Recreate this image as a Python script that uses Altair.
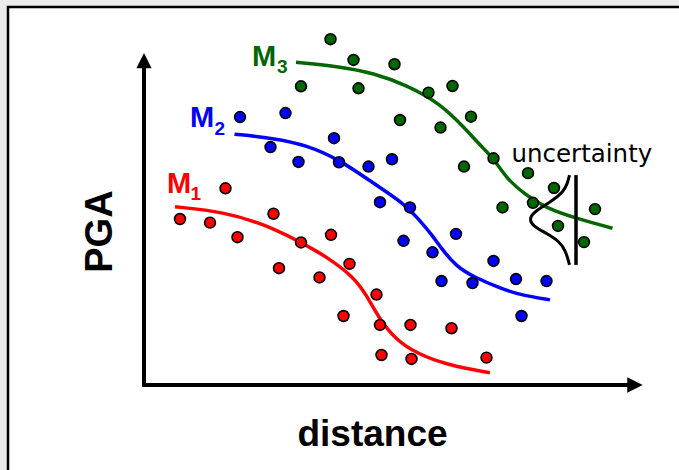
import altair as alt
import pandas as pd

# ---- schematic data (distance units 0..100, PGA units 0..110) ----
red_px = [7.2, 13.2, 18.7, 16.3, 25.9, 31.4, 37.4, 27.0, 35.1, 41.1, 46.5, 39.9, 47.2, 53.3, 61.5, 47.5, 53.5, 68.5]
red_py = [50.3, 49.2, 44.8, 59.6, 51.9, 43.2, 45.5, 35.4, 32.6, 36.7, 27.4, 20.9, 18.2, 18.2, 17.2, 9.1, 7.9, 8.3]

blue_px = [19.2, 28.3, 25.3, 30.9, 38.0, 39.0, 44.9, 49.6, 47.2, 53.2, 51.9, 62.4, 57.7, 69.9, 59.5, 65.7, 74.4, 80.5, 75.5]
blue_py = [81.2, 82.4, 72.1, 67.6, 74.8, 67.5, 66.2, 68.4, 55.4, 53.8, 43.7, 45.8, 40.2, 37.6, 31.5, 30.9, 32.1, 31.5, 20.9]

green_px = [37.3, 41.9, 50.1, 31.4, 42.9, 56.9, 61.7, 51.2, 65.4, 59.3, 64.0, 69.9, 76.8, 82.0, 71.7, 77.8, 90.2, 82.8, 88.0]
green_py = [104.8, 98.5, 97.2, 90.5, 89.9, 88.6, 90.6, 80.3, 81.3, 78.0, 66.2, 68.7, 64.2, 59.7, 53.8, 55.2, 53.3, 48.2, 43.3]

red_cx = [6.2, 15.9, 24.5, 31.4, 36.5, 41.9, 44.5, 47.2, 50.5, 54.5, 60.5, 69.2]
red_cy = [54.0, 52.5, 48.5, 43.2, 38.9, 32.8, 27.3, 19.7, 13.6, 9.6, 6.1, 3.7]

blue_cx = [18.1, 25.9, 32.5, 39.2, 45.9, 51.9, 54.8, 57.9, 59.2, 62.5, 65.9, 71.2, 75.2, 81.2]
blue_cy = [76.0, 74.8, 72.7, 68.2, 61.1, 55.1, 50.5, 44.9, 41.9, 35.8, 32.8, 29.3, 27.3, 25.8]

green_cx = [30.4, 39.2, 45.9, 52.5, 59.2, 64.5, 67.2, 69.9, 72.5, 75.9, 80.5, 86.5, 93.7]
green_cy = [97.8, 96.5, 94.5, 90.9, 85.4, 77.3, 72.7, 68.7, 62.6, 58.1, 53.5, 50.5, 47.5]

bell_x = [85.1, 84.7, 83.9, 81.5, 78.5, 76.9, 77.9, 80.5, 83.2, 84.4, 85.1]
bell_y = [63.6, 61.1, 58.6, 55.6, 53.0, 50.5, 48.0, 46.0, 43.4, 40.4, 36.4]

RED, BLUE, GREEN = "#ff0000", "#0000ff", "#006600"

X = lambda f="x": alt.X(f"{f}:Q", scale=alt.Scale(domain=[0, 100], nice=False, zero=False), axis=None)
Y = lambda f="y": alt.Y(f"{f}:Q", scale=alt.Scale(domain=[0, 110], nice=False, zero=False), axis=None)


def curve(xs, ys, color, width=3.5):
    df = pd.DataFrame({"x": xs, "y": ys, "i": range(len(xs))})
    return alt.Chart(df).mark_line(color=color, strokeWidth=width, interpolate="basis").encode(
        x=X(), y=Y(), order="i:Q")


def dots(xs, ys, color):
    df = pd.DataFrame({"x": xs, "y": ys})
    return alt.Chart(df).mark_circle(size=118, fill=color, stroke="black", strokeWidth=1.6, opacity=1).encode(
        x=X(), y=Y())


def label(txt, x, y, size, color="black", bold=True, font="Liberation Sans", align="left", angle=0):
    df = pd.DataFrame({"x": [x], "y": [y], "t": [txt]})
    kw = dict(fontSize=size, color=color, font=font, align=align, baseline="alphabetic",
              fontWeight="bold" if bold else "normal")
    if angle:
        kw["angle"] = angle
    return alt.Chart(df).mark_text(**kw).encode(x=X(), y=Y(), text="t:N")


frame = alt.Chart(pd.DataFrame({"a": [0]})).mark_rect(fill="white", stroke="black", strokeWidth=2.5).encode(
    x=alt.value(-136), x2=alt.value(600), y=alt.value(-15), y2=alt.value(500))

bell = curve(bell_x, bell_y, "black", 3)

vline = alt.Chart(pd.DataFrame({"x": [86.4], "y": [36.4], "y2": [63.6]})).mark_rule(
    color="black", strokeWidth=3.5).encode(x=X(), y=Y(), y2="y2:Q")

xaxis = alt.Chart(pd.DataFrame({"x": [0.0], "x2": [96.6], "y": [0.0]})).mark_rule(
    color="black", strokeWidth=4, strokeCap="square").encode(x=X(), x2="x2:Q", y=Y())
yaxis = alt.Chart(pd.DataFrame({"x": [0.0], "y": [0.0], "y2": [96.1]})).mark_rule(
    color="black", strokeWidth=4, strokeCap="square").encode(x=X(), y=Y(), y2="y2:Q")
xhead = alt.Chart(pd.DataFrame({"x": [98.2], "y": [0.0]})).mark_point(
    shape="M1,0L-1,-1L-1,1Z", size=240, filled=True, fill="black", opacity=1, strokeWidth=0).encode(x=X(), y=Y())
yhead = alt.Chart(pd.DataFrame({"x": [0.0], "y": [98.3]})).mark_point(
    shape="M0,-1L-1,1L1,1Z", size=230, filled=True, fill="black", opacity=1, strokeWidth=0).encode(x=X(), y=Y())

chart = alt.layer(
    frame,
    curve(red_cx, red_cy, RED), curve(blue_cx, blue_cy, BLUE), curve(green_cx, green_cy, GREEN),
    dots(red_px, red_py, RED), dots(blue_px, blue_py, BLUE), dots(green_px, green_py, GREEN),
    bell, vline, xaxis, yaxis, xhead, yhead,
    label("M", 21.6, 96.7, 29, GREEN), label("3", 26.6, 94.5, 19, GREEN),
    label("M", 9.2, 78.2, 29, BLUE), label("2", 14.1, 75.8, 19, BLUE),
    label("M", 4.6, 58.2, 29, RED), label("1", 9.3, 56.1, 19, RED),
    label("uncertainty", 73.5, 67.5, 24.5, bold=False, font="DejaVu Sans"),
    label("distance", 45.7, -18.6, 37, align="center"),
    label("PGA", -6.5, 46.5, 38, align="center", angle=270),
).properties(
    width=500, height=363,
    padding={"left": 144, "top": 22, "right": 35, "bottom": 85},
    autosize=alt.AutoSizeParams(type="none"),
    background="#ebebeb",
).configure_view(stroke=None)

chart.save("out.html", embed_options={"renderer": "svg", "actions": False})
